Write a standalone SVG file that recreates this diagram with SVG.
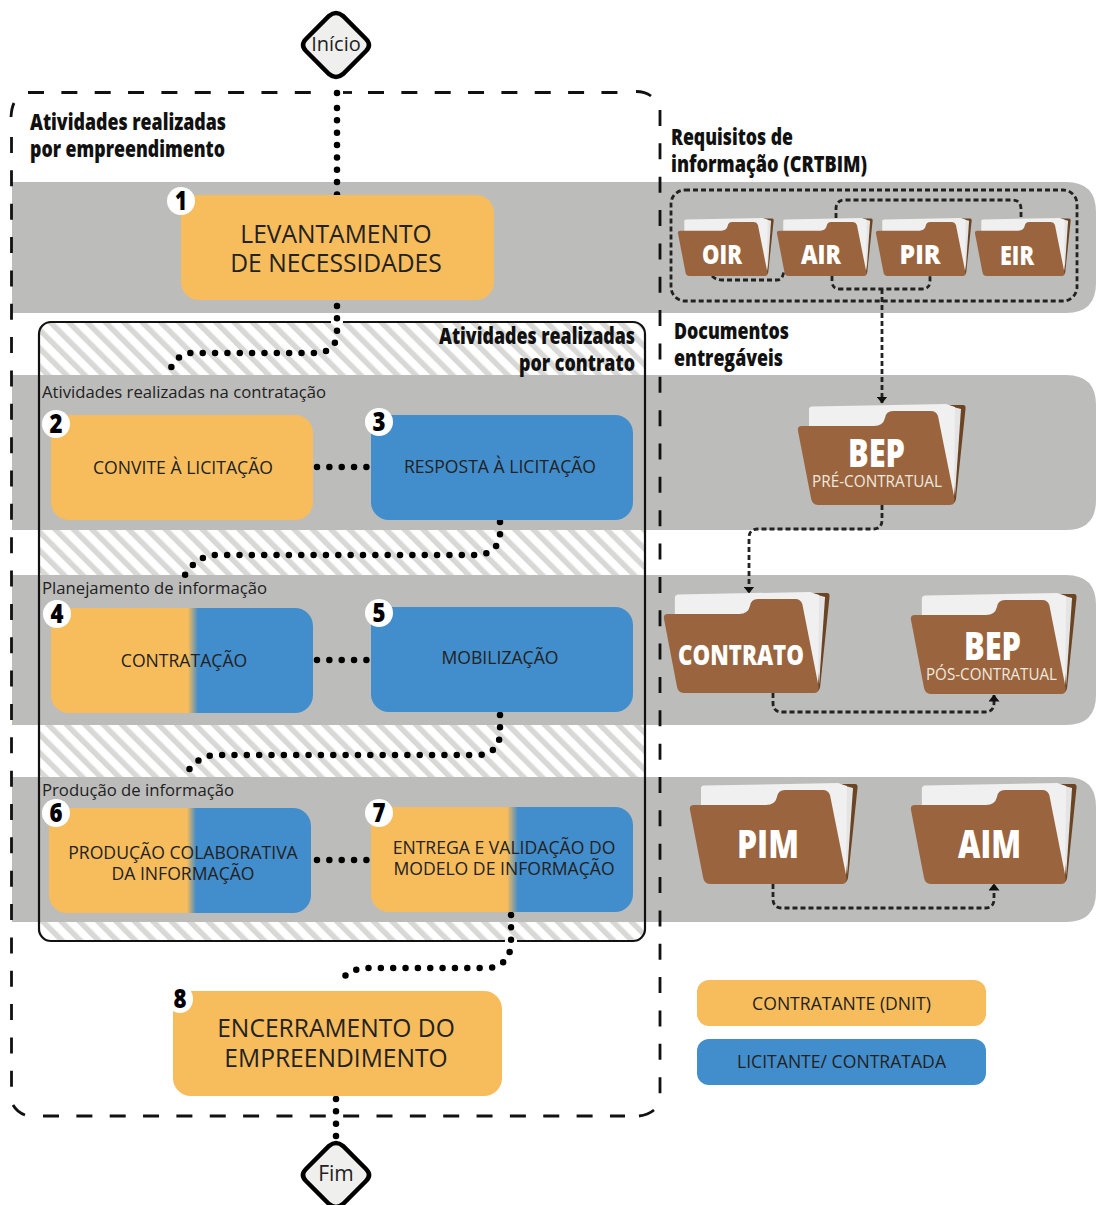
<svg xmlns="http://www.w3.org/2000/svg" xmlns:xlink="http://www.w3.org/1999/xlink" width="1096" height="1205" viewBox="0 0 1096 1205">
<style>
text{font-family:"Open Sans","Liberation Sans",sans-serif;fill:#222}
.band{fill:#bcbcba}
.org{fill:#f7bc5c}
.blu{fill:#428dcc}
.big{font-size:24.6px;text-anchor:middle}
.mid{font-size:17.6px;text-anchor:middle}
.lab{font-size:16.5px}
.hd{font-size:22px;font-weight:800;fill:#111}
.num{font-size:26px;font-weight:800;text-anchor:middle;fill:#000}
.badge{fill:#fff}
.fl{font-weight:800;fill:#fff;text-anchor:middle}
.fs{font-size:16px;fill:#f1e8df;text-anchor:middle}
.dots{fill:none;stroke:#000;stroke-width:6.5;stroke-linecap:round;stroke-dasharray:0 12.35}
.dash{fill:none;stroke:#222;stroke-width:2.8;stroke-dasharray:5 3}
.term{fill:#efefed;stroke:#000;stroke-width:4.5}
.outer{fill:none;stroke:#111;stroke-width:2.8}
.outer-d{stroke-dasharray:16 17.35}
</style>
<defs>
<pattern id="hatch" width="13" height="13" patternUnits="userSpaceOnUse" patternTransform="rotate(-45)">
<rect width="13" height="13" fill="#fff"/><rect width="5.5" height="13" fill="#d8d8d6"/>
</pattern>
<linearGradient id="g4" gradientUnits="userSpaceOnUse" x1="188" x2="198" y1="0" y2="0"><stop offset="0" stop-color="#f7bc5c"/><stop offset="1" stop-color="#428dcc"/></linearGradient>
<linearGradient id="g6" gradientUnits="userSpaceOnUse" x1="187" x2="196" y1="0" y2="0"><stop offset="0" stop-color="#f7bc5c"/><stop offset="1" stop-color="#428dcc"/></linearGradient>
<linearGradient id="g7" gradientUnits="userSpaceOnUse" x1="507" x2="518" y1="0" y2="0"><stop offset="0" stop-color="#f7bc5c"/><stop offset="1" stop-color="#428dcc"/></linearGradient>
<g id="folder">
<path d="M150,1 H165 Q168,1 167.500,5 L158,95 Q157,100 153,100 Z" fill="#6b4423"/>
<path d="M148,1 L163,5 L157,92 Z" fill="#e4e4e4"/>
<path d="M11,5 Q11,3 14,2.500 L148,0 L157,3 L156,92 L11,30 Z" fill="#f0f0f0"/>
<path d="M4,22 H76 Q85,22 87,14 Q88,7 95,7 H133 Q138,7 140,12 L156,92 Q158,101 152,101 H20 Q14,101 13,94 L0,27 Q-1,22 4,22 Z" fill="#9a653e"/>
</g>
<marker id="arr" viewBox="0 0 7 11" refX="6.500" refY="5.500" markerWidth="7" markerHeight="11" markerUnits="userSpaceOnUse" orient="auto"><path d="M0,0 L7,5.500 L0,11 Z" fill="#111"/></marker>
</defs>

<g id="background">
<rect x="39" y="322" width="606" height="619" rx="12" fill="url(#hatch)"/>
<path class="band" d="M12,182 H1066 Q1096,182 1096,212 V283 Q1096,313 1066,313 H12 Z"/>
<path class="band" d="M12,375 H1066 Q1096,375 1096,405 V500 Q1096,530 1066,530 H12 Z"/>
<path class="band" d="M12,575 H1066 Q1096,575 1096,605 V695 Q1096,725 1066,725 H12 Z"/>
<path class="band" d="M12,777 H1066 Q1096,777 1096,807 V892 Q1096,922 1066,922 H12 Z"/>
<rect x="39" y="322" width="606" height="619" rx="12" fill="none" stroke="#111" stroke-width="2.2"/>
<path d="M331,322 H343 M505,941 H517" stroke="#fff" stroke-width="3" fill="none"/>
<g id="outer-boundary">
<path class="outer outer-d" d="M28,92.500 H312"/>
<path class="outer" d="M343,92.500 H352"/>
<path class="outer outer-d" d="M368,92.500 H620"/>
<path class="outer" d="M636,91.500 Q645,91.500 651,96"/>
<path class="outer outer-d" d="M660,110 V1095"/>
<path class="outer" d="M654,1110 Q648,1115 639,1116"/>
<path class="outer outer-d" d="M43,1116 V1116 H625"/>
<path class="outer" d="M25,1115 Q17,1112 13,1105"/>
<path class="outer outer-d" d="M11.500,137 V1088"/>
<path class="outer" d="M11,117 Q11.500,108 14,103"/>
</g>
<text class="hd" x="30" y="130" textLength="196" lengthAdjust="spacingAndGlyphs">Atividades realizadas</text>
<text class="hd" x="30" y="157" textLength="195" lengthAdjust="spacingAndGlyphs">por empreendimento</text>
<text class="hd" x="439" y="344" textLength="196" lengthAdjust="spacingAndGlyphs">Atividades realizadas</text>
<text class="hd" x="519" y="371" textLength="116" lengthAdjust="spacingAndGlyphs">por contrato</text>
<text class="hd" x="671" y="145" textLength="122" lengthAdjust="spacingAndGlyphs">Requisitos de</text>
<text class="hd" x="671" y="172" textLength="196" lengthAdjust="spacingAndGlyphs">informação (CRTBIM)</text>
<text class="hd" x="674" y="339" textLength="115" lengthAdjust="spacingAndGlyphs">Documentos</text>
<text class="hd" x="674" y="366" textLength="109" lengthAdjust="spacingAndGlyphs">entregáveis</text>
<text class="lab" x="42" y="398" textLength="284" lengthAdjust="spacingAndGlyphs">Atividades realizadas na contratação</text>
<text class="lab" x="42" y="594" textLength="225" lengthAdjust="spacingAndGlyphs">Planejamento de informação</text>
<text class="lab" x="42" y="796" textLength="192" lengthAdjust="spacingAndGlyphs">Produção de informação</text>
</g>

<g id="connectors">
<path class="dots" d="M337,93 V93.010 M337,108 V195"/>
<path class="dots" d="M337,306 V334 Q336,351 318,353 H190 Q176,355 170,370"/>
<path class="dots" d="M317,467 H367"/>
<path class="dots" d="M500,522 V535 Q498,553 478,555 H215 Q197,556 185,575"/>
<path class="dots" d="M317,660 H367"/>
<path class="dots" d="M500,715 V735 Q498,754 478,755 H215 Q195,757 185,776"/>
<path class="dots" d="M317,860 H367"/>
<path class="dots" d="M511,915 V945 Q509,966 488,968 H365 Q345,970 339,985"/>
<path class="dots" d="M336,1099 V1138"/>
<rect class="dash" x="671" y="190" width="406" height="111" rx="14"/>
<path class="dash" d="M836,218 V209 Q836,200 845,200 H1012 Q1021,200 1021,209 V218"/>
<path class="dash" d="M712,276 Q716,280 722,280 H777 Q783,280 784,270"/>
<path class="dash" d="M832,276 V281 Q832,289 840,289 H922 Q930,289 930,281 V276"/>
<path class="dash" d="M882,289 V403" marker-end="url(#arr)"/>
<path class="dash" d="M882,505 V520 Q882,529 873,529 H758 Q749,529 749,538 V593" marker-end="url(#arr)"/>
<path class="dash" d="M773,693 V703 Q773,712 782,712 H985 Q994,712 994,703 V695" marker-end="url(#arr)"/>
<path class="dash" d="M773,884 V899 Q773,908 782,908 H985 Q994,908 994,899 V884" marker-end="url(#arr)"/>
</g>

<g id="inicio">
<path class="term" d="M329,16 Q336,10 343,16 L366,39 Q372,45 366,51 L343,74 Q336,80 329,74 L306,51 Q300,45 306,39 Z"/>
<text x="336" y="51" font-size="20" text-anchor="middle">Início</text>
</g>
<g id="fim">
<path class="term" d="M329,1146 Q336,1140 343,1146 L366,1169 Q372,1175 366,1181 L343,1204 Q336,1210 329,1204 L306,1181 Q300,1175 306,1169 Z"/>
<text x="336" y="1181" font-size="21" text-anchor="middle">Fim</text>
</g>

<g id="node1">
<rect class="org" x="181" y="195" width="313" height="105" rx="18"/>
<text class="big" x="336" y="243">LEVANTAMENTO</text>
<text class="big" x="336" y="272">DE NECESSIDADES</text>
<circle class="badge" cx="181" cy="201" r="14"/><text class="num" x="181" y="210" textLength="12" lengthAdjust="spacingAndGlyphs">1</text>
</g>
<g id="node2">
<rect class="org" x="51" y="415" width="262" height="105" rx="18"/>
<text class="mid" x="183" y="474">CONVITE À LICITAÇÃO</text>
<circle class="badge" cx="56" cy="424" r="14"/><text class="num" x="56" y="433" textLength="13" lengthAdjust="spacingAndGlyphs">2</text>
</g>
<g id="node3">
<rect class="blu" x="371" y="415" width="262" height="105" rx="18"/>
<text class="mid" x="500" y="473">RESPOSTA À LICITAÇÃO</text>
<circle class="badge" cx="379" cy="422" r="14"/><text class="num" x="379" y="431" textLength="13" lengthAdjust="spacingAndGlyphs">3</text>
</g>
<g id="node4">
<rect fill="url(#g4)" x="51" y="608" width="262" height="105" rx="18"/>
<text class="mid" x="184" y="667">CONTRATAÇÃO</text>
<circle class="badge" cx="57" cy="614" r="14"/><text class="num" x="57" y="623" textLength="13" lengthAdjust="spacingAndGlyphs">4</text>
</g>
<g id="node5">
<rect class="blu" x="371" y="607" width="262" height="105" rx="18"/>
<text class="mid" x="500" y="664">MOBILIZAÇÃO</text>
<circle class="badge" cx="379" cy="613" r="14"/><text class="num" x="379" y="622" textLength="13" lengthAdjust="spacingAndGlyphs">5</text>
</g>
<g id="node6">
<rect fill="url(#g6)" x="49" y="808" width="262" height="105" rx="18"/>
<text class="mid" x="183" y="859">PRODUÇÃO COLABORATIVA</text>
<text class="mid" x="183" y="880">DA INFORMAÇÃO</text>
<circle class="badge" cx="56" cy="813" r="14"/><text class="num" x="56" y="822" textLength="13" lengthAdjust="spacingAndGlyphs">6</text>
</g>
<g id="node7">
<rect fill="url(#g7)" x="371" y="807" width="262" height="105" rx="18"/>
<text class="mid" x="504" y="854">ENTREGA E VALIDAÇÃO DO</text>
<text class="mid" x="504" y="875">MODELO DE INFORMAÇÃO</text>
<circle class="badge" cx="379" cy="813" r="14"/><text class="num" x="379" y="822" textLength="13" lengthAdjust="spacingAndGlyphs">7</text>
</g>
<g id="node8">
<rect class="org" x="173" y="991" width="329" height="105" rx="18"/>
<text class="big" x="336" y="1037">ENCERRAMENTO DO</text>
<text class="big" x="336" y="1067">EMPREENDIMENTO</text>
<ellipse class="badge" cx="180" cy="999" rx="13" ry="14"/><text class="num" x="180" y="1008" textLength="13" lengthAdjust="spacingAndGlyphs">8</text>
</g>

<g id="folder-oir"><use xlink:href="#folder" href="#folder" transform="translate(678,218) scale(.571,.574)"/><text class="fl" x="722" y="264" font-size="26" textLength="40" lengthAdjust="spacingAndGlyphs">OIR</text></g>
<g id="folder-air"><use xlink:href="#folder" href="#folder" transform="translate(777,218) scale(.571,.574)"/><text class="fl" x="821" y="264" font-size="26" textLength="40" lengthAdjust="spacingAndGlyphs">AIR</text></g>
<g id="folder-pir"><use xlink:href="#folder" href="#folder" transform="translate(876,218) scale(.571,.574)"/><text class="fl" x="920" y="264" font-size="26" textLength="41" lengthAdjust="spacingAndGlyphs">PIR</text></g>
<g id="folder-eir"><use xlink:href="#folder" href="#folder" transform="translate(975,218) scale(.571,.574)"/><text class="fl" x="1017" y="265" font-size="26" textLength="34" lengthAdjust="spacingAndGlyphs">EIR</text></g>
<g id="folder-bep-pre"><use xlink:href="#folder" href="#folder" transform="translate(798,404)"/><text class="fl" x="876.500" y="467" font-size="38" textLength="57" lengthAdjust="spacingAndGlyphs">BEP</text><text class="fs" x="877" y="487" textLength="130" lengthAdjust="spacingAndGlyphs">PRÉ-CONTRATUAL</text></g>
<g id="folder-contrato"><use xlink:href="#folder" href="#folder" transform="translate(664,592) scale(.988,1)"/><text class="fl" x="741" y="665" font-size="29" textLength="126" lengthAdjust="spacingAndGlyphs">CONTRATO</text></g>
<g id="folder-bep-pos"><use xlink:href="#folder" href="#folder" transform="translate(911,593) scale(.988,1)"/><text class="fl" x="992.500" y="660" font-size="38" textLength="57" lengthAdjust="spacingAndGlyphs">BEP</text><text class="fs" x="991.500" y="680" textLength="131" lengthAdjust="spacingAndGlyphs">PÓS-CONTRATUAL</text></g>
<g id="folder-pim"><use xlink:href="#folder" href="#folder" transform="translate(690,783)"/><text class="fl" x="768" y="858" font-size="38" textLength="62" lengthAdjust="spacingAndGlyphs">PIM</text></g>
<g id="folder-aim"><use xlink:href="#folder" href="#folder" transform="translate(911,783) scale(.988,1)"/><text class="fl" x="989.500" y="858" font-size="38" textLength="63" lengthAdjust="spacingAndGlyphs">AIM</text></g>

<g id="legend-contratante"><rect class="org" x="697" y="980" width="289" height="46" rx="12"/><text class="mid" x="841.500" y="1010">CONTRATANTE (DNIT)</text></g>
<g id="legend-licitante"><rect class="blu" x="697" y="1039" width="289" height="46" rx="12"/><text class="mid" x="841.500" y="1068">LICITANTE/ CONTRATADA</text></g>
</svg>
